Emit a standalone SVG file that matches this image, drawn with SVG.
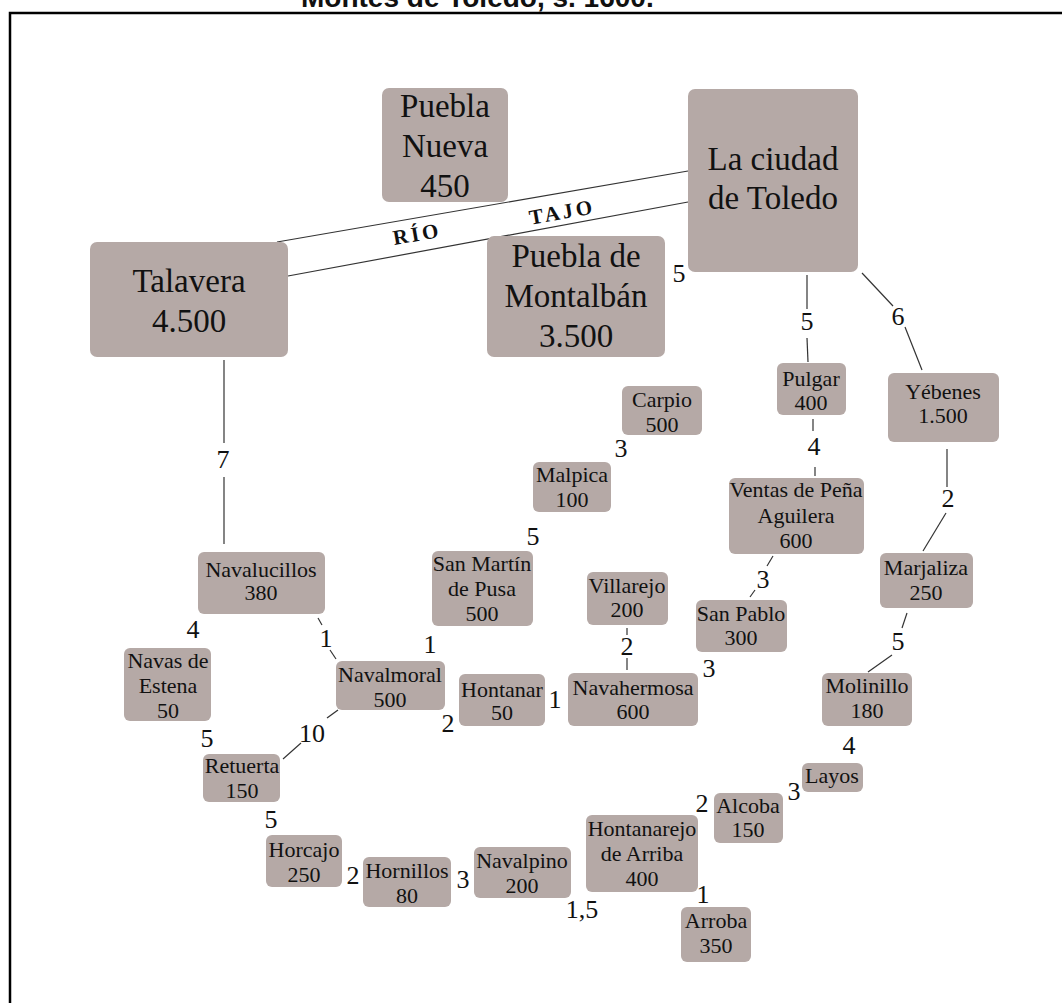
<svg xmlns="http://www.w3.org/2000/svg" width="1062" height="1003" viewBox="0 0 1062 1003">
<style>
.n rect{fill:#b5a9a6;}
.s{font-family:"Liberation Serif","Times New Roman",serif;font-size:22px;fill:#111;text-anchor:middle;}
.b{font-family:"Liberation Serif","Times New Roman",serif;font-size:33px;fill:#111;text-anchor:middle;}
.l{font-family:"Liberation Serif","Times New Roman",serif;font-size:26px;fill:#111;text-anchor:middle;}
.r{font-family:"Liberation Serif","Times New Roman",serif;font-size:21px;font-weight:bold;fill:#111;text-anchor:middle;letter-spacing:3px;}
.c line{stroke:#333;stroke-width:1.2;}
</style>
<rect width="1062" height="1003" fill="#fff"/>
<text x="301" y="7" style="font-family:'Liberation Sans',Arial,sans-serif;font-weight:bold;font-size:28px;fill:#111;">Montes de Toledo, s. 1600.</text>
<rect x="10" y="13" width="1100" height="1100" fill="none" stroke="#000" stroke-width="2.5"/>

<g id="connectors" class="c">
<line x1="277" y1="242" x2="688" y2="171"/>
<line x1="288" y1="276" x2="688" y2="202"/>
<line x1="807" y1="275" x2="807" y2="309"/><line x1="807" y1="338" x2="808" y2="362"/>
<line x1="862" y1="273" x2="893" y2="306"/><line x1="905" y1="327" x2="922" y2="370"/>
<line x1="813" y1="419" x2="813" y2="431"/><line x1="815" y1="467" x2="815" y2="476"/>
<line x1="947" y1="449" x2="947" y2="487"/><line x1="946" y1="513" x2="923" y2="551"/>
<line x1="773" y1="556" x2="767" y2="566"/><line x1="755" y1="590" x2="750" y2="597"/>
<line x1="627" y1="628" x2="627" y2="635"/><line x1="627" y1="658" x2="627" y2="670"/>
<line x1="907" y1="613" x2="902" y2="628"/><line x1="892" y1="655" x2="868" y2="672"/>
<line x1="224" y1="360" x2="224" y2="443"/><line x1="224" y1="477" x2="224" y2="544"/>
<line x1="318" y1="618" x2="322" y2="625"/><line x1="330" y1="650" x2="336" y2="659"/>
<line x1="338" y1="710" x2="327" y2="718"/><line x1="301" y1="743" x2="283" y2="759"/>
</g>

<g id="river">
<text class="r" x="417" y="241" transform="rotate(-10 417 234)">RÍO</text>
<text class="r" x="562" y="219" transform="rotate(-10 562 212)">TAJO</text>
</g>

<g id="labels" class="l">
<text class="l" x="807" y="330">5</text>
<text class="l" x="898" y="325">6</text>
<text class="l" x="814" y="455">4</text>
<text class="l" x="948" y="507">2</text>
<text class="l" x="763" y="588">3</text>
<text class="l" x="627" y="655">2</text>
<text class="l" x="898" y="650">5</text>
<text class="l" x="223" y="468">7</text>
<text class="l" x="326" y="647">1</text>
<text class="l" x="312" y="742">10</text>
<text class="l" x="679" y="282">5</text>
<text class="l" x="621" y="457">3</text>
<text class="l" x="533" y="545">5</text>
<text class="l" x="193" y="638">4</text>
<text class="l" x="430" y="653">1</text>
<text class="l" x="448" y="732">2</text>
<text class="l" x="555" y="708">1</text>
<text class="l" x="709" y="677">3</text>
<text class="l" x="207" y="747">5</text>
<text class="l" x="271" y="828">5</text>
<text class="l" x="353" y="884">2</text>
<text class="l" x="463" y="888">3</text>
<text class="l" x="582" y="918">1,5</text>
<text class="l" x="703" y="903">1</text>
<text class="l" x="702" y="812">2</text>
<text class="l" x="794" y="800">3</text>
<text class="l" x="849" y="754">4</text>
</g>

<g id="puebla-nueva" class="n"><rect x="382" y="88" width="126" height="114" rx="7"/><text class="b" x="445" y="117">Puebla</text><text class="b" x="445" y="157">Nueva</text><text class="b" x="445" y="197">450</text></g>
<g id="talavera" class="n"><rect x="90" y="242" width="198" height="115" rx="7"/><text class="b" x="189" y="292">Talavera</text><text class="b" x="189" y="332">4.500</text></g>
<g id="toledo" class="n"><rect x="688" y="89" width="170" height="183" rx="7"/><text class="b" x="773" y="170">La ciudad</text><text class="b" x="773" y="209">de Toledo</text></g>
<g id="puebla-montalban" class="n"><rect x="487" y="236" width="178" height="121" rx="7"/><text class="b" x="576" y="267">Puebla de</text><text class="b" x="576" y="307">Montalbán</text><text class="b" x="576" y="347">3.500</text></g>
<g id="pulgar" class="n"><rect x="777" y="363" width="69" height="52" rx="6"/><text class="s" x="811" y="386">Pulgar</text><text class="s" x="811" y="410">400</text></g>
<g id="yebenes" class="n"><rect x="888" y="373" width="111" height="69" rx="6"/><text class="s" x="943" y="399">Yébenes</text><text class="s" x="943" y="423">1.500</text></g>
<g id="carpio" class="n"><rect x="622" y="386" width="80" height="49" rx="6"/><text class="s" x="662" y="407">Carpio</text><text class="s" x="662" y="432">500</text></g>
<g id="malpica" class="n"><rect x="533" y="462" width="78" height="50" rx="6"/><text class="s" x="572" y="482">Malpica</text><text class="s" x="572" y="507">100</text></g>
<g id="san-martin" class="n"><rect x="432" y="551" width="101" height="75" rx="6"/><text class="s" x="482" y="571">San Martín</text><text class="s" x="482" y="596">de Pusa</text><text class="s" x="482" y="621">500</text></g>
<g id="ventas" class="n"><rect x="729" y="478" width="135" height="76" rx="6"/><text class="s" x="796" y="497">Ventas de Peña</text><text class="s" x="796" y="523">Aguilera</text><text class="s" x="796" y="548">600</text></g>
<g id="marjaliza" class="n"><rect x="880" y="553" width="93" height="55" rx="6"/><text class="s" x="926" y="575">Marjaliza</text><text class="s" x="926" y="600">250</text></g>
<g id="villarejo" class="n"><rect x="587" y="572" width="81" height="53" rx="6"/><text class="s" x="627" y="593">Villarejo</text><text class="s" x="627" y="617">200</text></g>
<g id="san-pablo" class="n"><rect x="696" y="600" width="91" height="52" rx="6"/><text class="s" x="741" y="621">San Pablo</text><text class="s" x="741" y="645">300</text></g>
<g id="navahermosa" class="n"><rect x="568" y="673" width="130" height="53" rx="6"/><text class="s" x="633" y="695">Navahermosa</text><text class="s" x="633" y="719">600</text></g>
<g id="molinillo" class="n"><rect x="822" y="673" width="90" height="53" rx="6"/><text class="s" x="867" y="693">Molinillo</text><text class="s" x="867" y="718">180</text></g>
<g id="layos" class="n"><rect x="802" y="763" width="61" height="29" rx="6"/><text class="s" x="832" y="783">Layos</text></g>
<g id="alcoba" class="n"><rect x="714" y="793" width="69" height="50" rx="6"/><text class="s" x="748" y="813">Alcoba</text><text class="s" x="748" y="837">150</text></g>
<g id="hontanarejo" class="n"><rect x="586" y="815" width="112" height="77" rx="6"/><text class="s" x="642" y="836">Hontanarejo</text><text class="s" x="642" y="861">de Arriba</text><text class="s" x="642" y="886">400</text></g>
<g id="arroba" class="n"><rect x="681" y="907" width="70" height="55" rx="6"/><text class="s" x="716" y="928">Arroba</text><text class="s" x="716" y="953">350</text></g>
<g id="navalucillos" class="n"><rect x="198" y="552" width="127" height="62" rx="6"/><text class="s" x="261" y="577">Navalucillos</text><text class="s" x="261" y="600">380</text></g>
<g id="navas-estena" class="n"><rect x="124" y="648" width="87" height="73" rx="6"/><text class="s" x="168" y="668">Navas de</text><text class="s" x="168" y="693">Estena</text><text class="s" x="168" y="718">50</text></g>
<g id="navalmoral" class="n"><rect x="336" y="661" width="109" height="49" rx="6"/><text class="s" x="390" y="682">Navalmoral</text><text class="s" x="390" y="707">500</text></g>
<g id="hontanar" class="n"><rect x="459" y="674" width="86" height="52" rx="6"/><text class="s" x="502" y="697">Hontanar</text><text class="s" x="502" y="720">50</text></g>
<g id="retuerta" class="n"><rect x="203" y="754" width="77" height="48" rx="6"/><text class="s" x="242" y="773">Retuerta</text><text class="s" x="242" y="798">150</text></g>
<g id="horcajo" class="n"><rect x="266" y="835" width="76" height="52" rx="6"/><text class="s" x="304" y="857">Horcajo</text><text class="s" x="304" y="882">250</text></g>
<g id="hornillos" class="n"><rect x="363" y="857" width="88" height="50" rx="6"/><text class="s" x="407" y="878">Hornillos</text><text class="s" x="407" y="903">80</text></g>
<g id="navalpino" class="n"><rect x="474" y="847" width="97" height="51" rx="6"/><text class="s" x="522" y="868">Navalpino</text><text class="s" x="522" y="893">200</text></g>
</svg>
